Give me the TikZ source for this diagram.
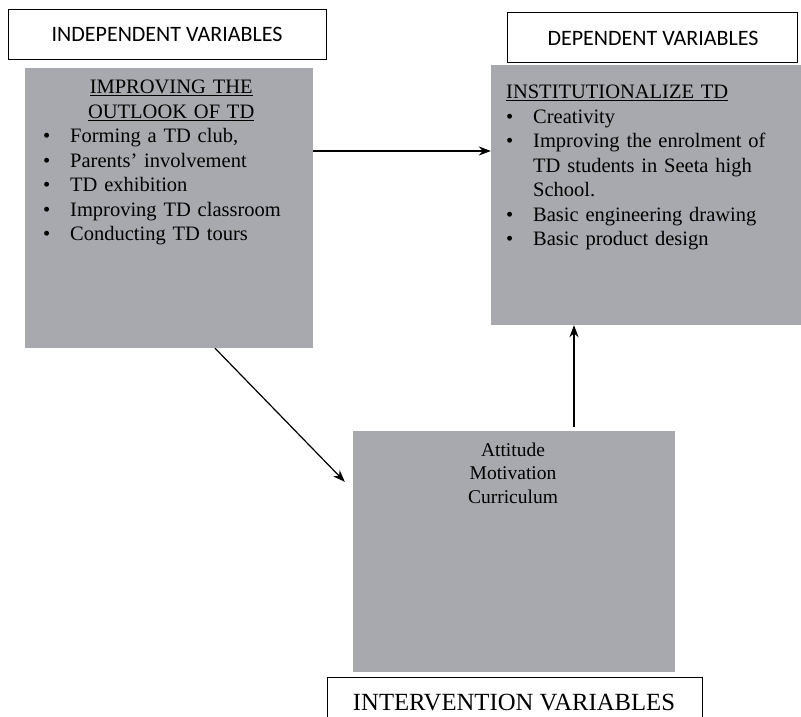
\documentclass[tikz,border=0pt]{standalone}
\usepackage{fontspec}
\setmainfont{Liberation Serif}
\newfontfamily\labfont{Carlito}
\usetikzlibrary{arrows.meta,calc}
\definecolor{boxgrey}{RGB}{168,169,174}
\newcommand{\bitem}[1]{\par\noindent\hangindent=27pt\hangafter=1\makebox[27pt][l]{\textbullet}#1}
\begin{document}
\begin{tikzpicture}[x=1pt,y=-1pt,
  greybox/.style={fill=boxgrey,draw=none,rectangle,inner sep=0pt},
  labelbox/.style={draw=black,line width=1pt,fill=white,rectangle,inner sep=0pt},
  sanslab/.style={font=\labfont\fontsize{22}{26}\selectfont},
  bodytext/.style={inner sep=0pt,font=\fontsize{20.5}{24.5}\selectfont},
  conn/.style={line width=1.2pt,-{Stealth[length=12pt,width=9pt]}}]
\useasboundingbox (0,0) rectangle (801,717);
\clip (0,0) rectangle (801,717);
% label boxes
\node[labelbox,minimum width=318pt,minimum height=50pt] (indlab) at (167,35) {};
\node[sanslab] (indtxt) at (167,34) {INDEPENDENT VARIABLES};
\node[labelbox,minimum width=290pt,minimum height=50pt] (deplab) at (652,38) {};
\node[sanslab] (deptxt) at (653,38) {DEPENDENT VARIABLES};
% grey boxes
\node[greybox,minimum width=288pt,minimum height=280pt] (b1) at (169,208) {};
\node[greybox,minimum width=312pt,minimum height=260pt] (b2) at (647,195) {};
\node[greybox,minimum width=322pt,minimum height=241pt] (b3) at (514,551.5) {};
% intervention label
\node[labelbox,minimum width=375pt,minimum height=70pt,anchor=north] (intlab) at (514.5,677) {};
\node[font=\fontsize{24.7}{28}\selectfont] (inttxt) at (514,703) {INTERVENTION VARIABLES};
% texts
\node[bodytext,anchor=north west,text width=256pt] (t1) at (43,76.5) {%
  \centering\strut\underline{IMPROVING THE}\\\underline{OUTLOOK OF TD}\par
  \raggedright
  \bitem{Forming a TD club,}
  \bitem{Parents' involvement}
  \bitem{TD exhibition}
  \bitem{Improving TD classroom}
  \bitem{Conducting TD tours}\par};
\node[bodytext,anchor=north west,text width=285pt] (t2) at (506,81.5) {%
  \raggedright\strut\underline{INSTITUTIONALIZE TD}
  \bitem{Creativity}
  \bitem{Improving the enrolment of\newline TD students in Seeta high\newline School.}
  \bitem{Basic engineering drawing}
  \bitem{Basic product design}\par};
\node[inner sep=0pt,anchor=north,align=center,font=\fontsize{19.5}{23.5}\selectfont] (t3) at (513,439.5) {\strut Attitude\\Motivation\\Curriculum};
% connectors
\coordinate (dtip) at ($(b3.north west)+(-8,51)$);
\draw[conn] (b1.east |- 0,151) -- (b2.west |- 0,151);
\draw[conn] ($(b3.north)+(60,-4)$) -- (b2.south -| 574,0);
\draw[conn] (b1.south -| 215,0) -- (dtip);
\end{tikzpicture}
\end{document}
